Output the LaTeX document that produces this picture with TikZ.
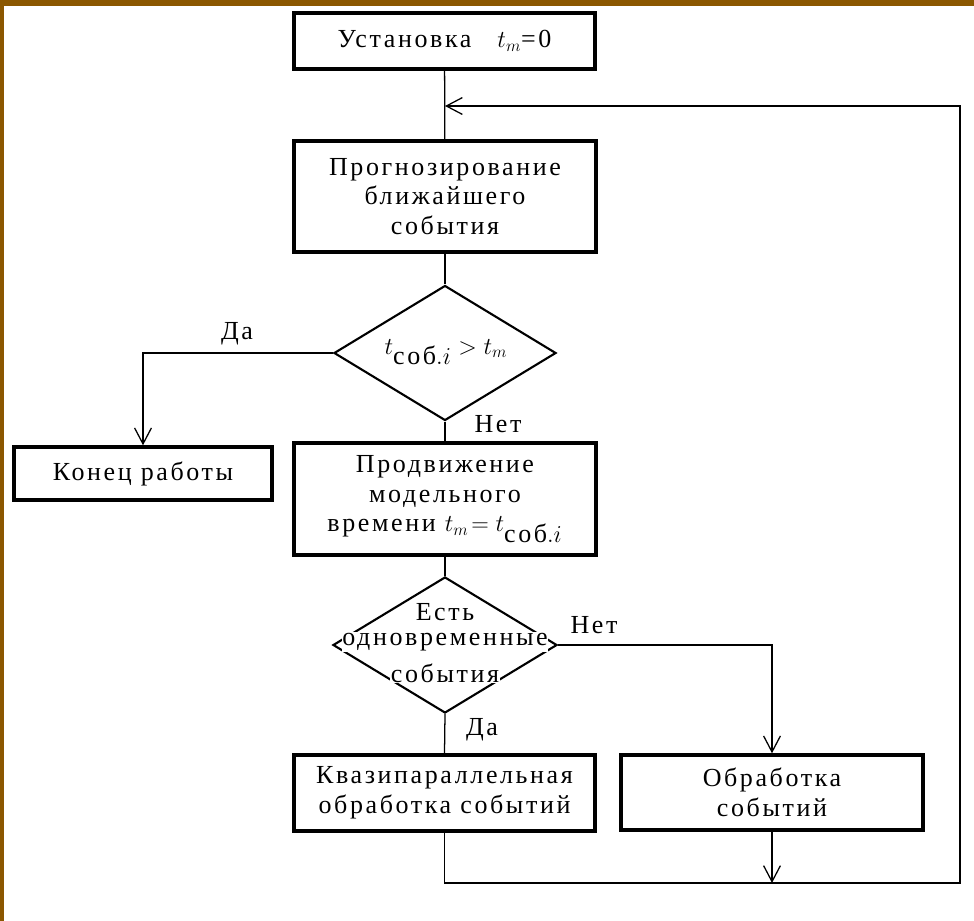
\documentclass[tikz,border=0pt]{standalone}
\usepackage{fontspec}
\setmainfont{Liberation Serif}[LetterSpace=10]
\usepackage{amsmath}
\usetikzlibrary{shapes.geometric,arrows.meta,positioning,calc}
\definecolor{framebrown}{RGB}{139,87,0}

\begin{document}
\begin{tikzpicture}[x=0.025cm, y=-0.025cm,
    font=\fontsize{18.5}{21}\selectfont,
    block/.style={draw, line width=2.4pt, align=center, inner sep=0pt},
    cond/.style={diamond, draw, line width=1.5pt, inner sep=0pt},
    condtext/.style={fill=white, inner sep=0.5pt},
    line/.style={line width=0.9pt},
    arr/.style={line, -{Straight Barb[length=0.4cm, width=0.42cm]}}]
    \useasboundingbox (0,0) rectangle (974,921);

    % Frame
    \fill[framebrown] (0,0) rectangle (974,6);
    \fill[framebrown] (0,0) rectangle (3.5,921);

    % Blocks
    \node[block, minimum width=7.525cm, minimum height=1.4cm] (ust) at (444.5,41)
        {Установка\quad$t_m$=0};
    \node[block, minimum width=7.55cm, minimum height=2.775cm] (prog) at (445,196.5)
        {Прогнозирование\\ближайшего\\события};
    \node[block, minimum width=6.45cm, minimum height=1.325cm] (kon) at (143,473.5)
        {Конец работы};
    \node[block, minimum width=7.55cm, minimum height=2.8cm] (prod) at (445,499)
        {Продвижение\\модельного\\времени $t_m\!=t_{\textstyle\text{соб}.i}$};
    \node[block, minimum width=7.525cm, minimum height=1.9cm] (kvazi) at (444.5,793)
        {Квазипараллельная\\обработка событий};
    \node[block, minimum width=7.55cm, minimum height=1.875cm] (obr) at (772,792.5)
        {Обработка\\событий};

    % Conditions
    \node[cond, minimum width=5.55cm, minimum height=3.375cm] (d1) at (445,353) {};
    \node[condtext] (d1t) at (446,352) {$t_{\textstyle\text{соб}.i}>t_m$};
    \node[cond, minimum width=5.6cm, minimum height=3.4cm] (d2) at (445,645) {};
    \node[condtext] (d2a) at (445,612) {Есть};
    \node[condtext] (d2b) at (445,642) {одновременные};
    \node[condtext] (d2c) at (445,673) {события};

    % Loop corners
    \coordinate (lpb) at (960,883);
    \coordinate (lpt) at (960,106);

    % Connections
    \draw[line] (ust) -- (prog);
    \draw[line] (prog) -- (d1);
    \draw[arr] (d1.west) -| (kon.north);
    \draw[line] (d1.south) -- (prod.north);
    \draw[line] (prod) -- (d2);
    \draw[arr] (d2.east) -| (obr.north);
    \draw[line] (d2.south) -- (kvazi.north);
    \draw[arr] (kvazi.south) |- (lpb) -- (lpt) -- (lpt -| prog.north);
    \draw[arr] (obr.south) -- (obr.south |- lpb);

    % Labels
    \node (yes1) at (237,334) {Да};
    \node (no1) at (498,424) {Нет};
    \node (no2) at (594,625) {Нет};
    \node (yes2) at (482,730) {Да};
\end{tikzpicture}
\end{document}
